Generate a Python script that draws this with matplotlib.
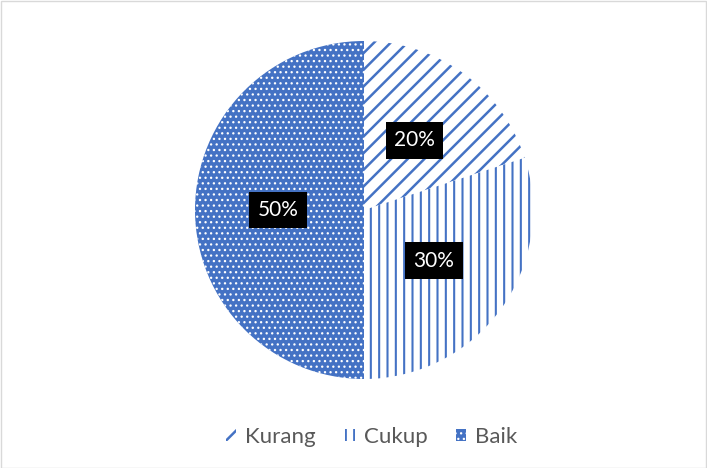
import matplotlib
matplotlib.use("Agg")
import matplotlib.pyplot as plt
from matplotlib.patches import Patch, Rectangle

labels = ["Kurang", "Cukup", "Baik"]
values = [20, 30, 50]
pct_labels = ["20%", "30%", "50%"]

blue = "#4472C4"

plt.rcParams['font.family'] = ['Lato', 'DejaVu Sans']
plt.rcParams['hatch.linewidth'] = 1.7

fig = plt.figure(figsize=(7.07, 4.68), dpi=100)
ax = fig.add_axes([195/707, 89/468, 338/707, 338/468])

wedges, texts = ax.pie(values, startangle=90, counterclock=False,
                       labels=pct_labels, labeldistance=0.51,
                       radius=1.0,
                       wedgeprops=dict(linewidth=0))

# hatch colour comes from the edgecolor, edges are not drawn (lw=0)
styles = [
    dict(facecolor="white", edgecolor=blue, hatch="//", hlw=1.8),
    dict(facecolor="white", edgecolor=blue, hatch="||", hlw=1.5),
    dict(facecolor=blue, edgecolor="white", hatch="...", hlw=0.9),
]
for w, st in zip(wedges, styles):
    w.set_facecolor(st["facecolor"])
    w.set_edgecolor(st["edgecolor"])
    w.set_hatch(st["hatch"])
    if hasattr(w, "set_hatch_linewidth"):
        w.set_hatch_linewidth(st["hlw"])

for t in texts:
    t.set_color("white")
    t.set_fontsize(15)
    t.set_ha("center")
    t.set_va("center")
    t.set_bbox(dict(facecolor="black", edgecolor="none", pad=6))

ax.set_xlim(-1, 1)
ax.set_ylim(-1, 1)
ax.set_aspect("equal")
ax.axis("off")

handles = []
for st in styles:
    h = Patch(facecolor=st["facecolor"], edgecolor=st["edgecolor"],
              hatch=st["hatch"], linewidth=0)
    handles.append(h)
leg = fig.legend(handles, labels, loc="center", bbox_to_anchor=(372/707, 1 - 437/468),
                 ncol=3, frameon=False, fontsize=16, labelcolor="#595959",
                 handlelength=0.45, handleheight=0.45, handletextpad=0.4,
                 columnspacing=1.3)
for h, st in zip(leg.legend_handles, styles):
    if hasattr(h, "set_hatch_linewidth"):
        h.set_hatch_linewidth(st["hlw"])

fig.patches.append(Rectangle((0.5/707, 0.5/468), 1 - 1.5/707, 1 - 1.5/468,
                             transform=fig.transFigure, fill=False,
                             edgecolor="#D9D9D9", linewidth=1))

fig.savefig("out.png", dpi=100)
